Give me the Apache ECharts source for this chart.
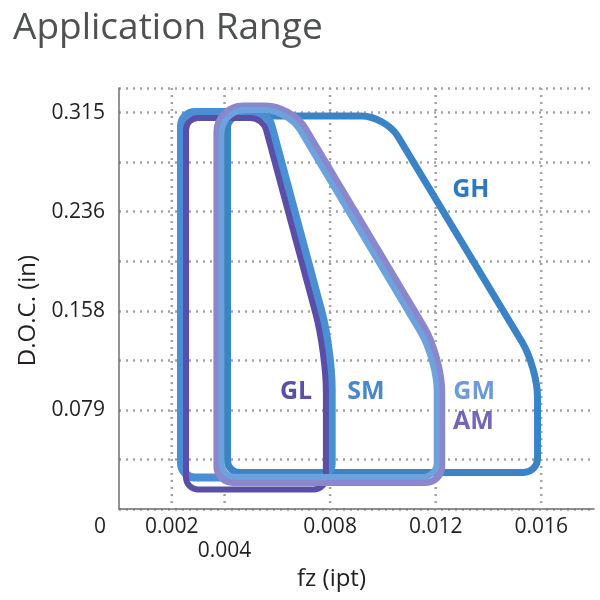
<!DOCTYPE html>
<html>
<head>
<meta charset="utf-8">
<script src="https://cdn.jsdelivr.net/npm/echarts@6/dist/echarts.min.js"></script>
<style>
  html, body { margin: 0; padding: 0; background: #fff; }
  #chart { width: 600px; height: 600px; }
</style>
</head>
<body>
<div id="chart"></div>
<script>
// axis ticks
const xTickValues = [0, 0.002, 0.004, 0.008, 0.012, 0.016]
const xTickLabels = ['0', '0.002', '0.004', '0.008', '0.012', '0.016']
const yStep = 0.039375
const yMax = 0.3345
const yTickValues = [0.07875, 0.1575, 0.23625, 0.315]
const yTickLabels = ['0.079', '0.158', '0.236', '0.315']

// outline corners of each range (fz, D.O.C.)
const ghFz = [0.00411, 0.0101, 0.01586, 0.01586, 0.00411]
const ghDoc = [0.3123, 0.3123, 0.1123, 0.029, 0.029]
const smFz = [0.00235, 0.00564, 0.00806, 0.00806, 0.00235]
const smDoc = [0.3155, 0.3155, 0.1266, 0.025, 0.025]
const glFz = [0.00254, 0.00545, 0.00784, 0.00784, 0.00254]
const glDoc = [0.3107, 0.3107, 0.1242, 0.0155, 0.0155]
const amFz = [0.00371, 0.00655, 0.01223, 0.01223, 0.00371]
const amDoc = [0.3202, 0.3202, 0.121, 0.021, 0.021]
const gmFz = [0.00388, 0.0064, 0.01204, 0.01204, 0.00388]
const gmDoc = [0.3171, 0.3171, 0.1187, 0.0254, 0.0254]

// label anchors
const labelNames = ['GL', 'SM', 'GM', 'AM', 'GH']
const labelFz = [0.00671, 0.00936, 0.01346, 0.01343, 0.01333]
const labelDoc = [0.0933, 0.0933, 0.0933, 0.069, 0.2536]
const labelColors = ['#5a4fa5', '#4a88c8', '#6c9bd5', '#7266b6', '#2f78be']

const gridColor = '#a3a3a3'
const fontFamily = '"Open Sans", "Noto Sans", sans-serif'

// rounded closed outline through the given pixel points
function roundedPath(pts, radii) {
  const n = pts.length
  let d = ''
  for (let i = 0; i < n; i++) {
    const v = pts[i]
    const p = pts[(i - 1 + n) % n]
    const q = pts[(i + 1) % n]
    const l1 = Math.hypot(p[0] - v[0], p[1] - v[1])
    const l2 = Math.hypot(q[0] - v[0], q[1] - v[1])
    const r = Math.min(radii[i], l1 / 2, l2 / 2)
    const a = [v[0] + (p[0] - v[0]) / l1 * r, v[1] + (p[1] - v[1]) / l1 * r]
    const b = [v[0] + (q[0] - v[0]) / l2 * r, v[1] + (q[1] - v[1]) / l2 * r]
    const c1 = [a[0] + (v[0] - a[0]) * 0.55, a[1] + (v[1] - a[1]) * 0.55]
    const c2 = [b[0] + (v[0] - b[0]) * 0.55, b[1] + (v[1] - b[1]) * 0.55]
    d += (i === 0 ? 'M' : 'L') + a[0] + ' ' + a[1] +
      ' C' + c1[0] + ' ' + c1[1] + ' ' + c2[0] + ' ' + c2[1] + ' ' + b[0] + ' ' + b[1] + ' '
  }
  return d + 'Z'
}

function outline(name, fz, doc, color, width, radii) {
  const data = fz.map((x, i) => [x, doc[i]])
  return {
    name: name,
    type: 'custom',
    silent: true,
    clip: false,
    data: data,
    renderItem(params, api) {
      if (params.dataIndex !== 0) return null
      const pts = data.map(p => api.coord(p))
      return {
        type: 'path',
        shape: { pathData: roundedPath(pts, radii) },
        style: { fill: 'none', stroke: color, lineWidth: width, lineJoin: 'round' }
      }
    }
  }
}

const chart = echarts.init(document.getElementById('chart'))
const option = {
  animation: false,
  title: {
    text: 'Application Range',
    left: 8,
    top: 5,
    textStyle: { fontFamily: fontFamily, fontSize: 37, fontWeight: 'normal', color: '#4f5052' }
  },
  grid: { left: 119, right: 6, top: 88, bottom: 91 },
  xAxis: {
    type: 'value',
    min: 0,
    max: 0.018,
    interval: 0.002,
    name: 'fz (ipt)',
    nameLocation: 'middle',
    nameGap: 48,
    nameTextStyle: { fontFamily: fontFamily, fontSize: 24, color: '#231f20', padding: [0, 50, 0, 0] },
    axisLine: { lineStyle: { color: '#6d6e71', width: 1.5 } },
    axisTick: { show: false },
    splitLine: { show: false },
    axisLabel: {
      margin: 8,
      fontFamily: fontFamily,
      fontSize: 21,
      color: '#231f20',
      formatter(v) {
        const i = xTickValues.findIndex(t => Math.abs(t - v) < 1e-7)
        if (i < 0) return ''
        if (i === 0) return '{zero|' + xTickLabels[i] + '}'
        if (i === 2) return '{low|' + xTickLabels[i] + '}'
        return '{n|' + xTickLabels[i] + '}'
      },
      rich: {
        n: { fontFamily: fontFamily, fontSize: 21, color: '#231f20' },
        zero: { fontFamily: fontFamily, fontSize: 21, color: '#231f20', padding: [0, 38, 0, 0] },
        low: { fontFamily: fontFamily, fontSize: 21, color: '#231f20', padding: [24, 0, 0, 0] }
      }
    }
  },
  yAxis: {
    type: 'value',
    min: 0,
    max: yMax,
    interval: yStep,
    name: 'D.O.C. (in)',
    nameLocation: 'middle',
    nameGap: 76,
    nameTextStyle: { fontFamily: fontFamily, fontSize: 24, color: '#231f20', padding: [0, 24, 0, 0] },
    axisLine: { show: true, lineStyle: { color: '#6d6e71', width: 1.5 } },
    axisTick: { show: false },
    splitLine: { lineStyle: { color: gridColor, width: 2.5, type: [2, 5] } },
    axisLabel: {
      margin: 14,
      fontFamily: fontFamily,
      fontSize: 21,
      color: '#231f20',
      formatter(v) {
        const i = yTickValues.findIndex(t => Math.abs(t - v) < 1e-6)
        return i < 0 ? '' : yTickLabels[i]
      }
    }
  },
  series: [
    {
      // vertical dotted grid lines at the labelled fz values
      name: 'xgrid',
      type: 'custom',
      silent: true,
      data: xTickValues.slice(1).map(v => [v, yMax]),
      renderItem(params, api) {
        const top = api.coord([api.value(0), yMax])
        const bottom = api.coord([api.value(0), 0])
        return {
          type: 'line',
          shape: { x1: top[0], y1: top[1], x2: bottom[0], y2: bottom[1] },
          style: { stroke: gridColor, lineWidth: 2.5, lineDash: [2, 5] }
        }
      }
    },
    outline('GH', ghFz, ghDoc, '#3b83c7', 7, [12, 24, 30, 14, 12]),
    outline('SM', smFz, smDoc, '#4a8fd4', 8, [14, 14, 40, 14, 14]),
    outline('GL', glFz, glDoc, '#5a4ea8', 6, [12, 12, 40, 12, 12]),
    outline('AM', amFz, amDoc, '#8b87cc', 7, [26, 26, 35, 16, 16]),
    outline('GM', gmFz, gmDoc, '#6ea2dc', 6, [24, 24, 32, 14, 14]),
    {
      name: 'labels',
      type: 'scatter',
      silent: true,
      symbolSize: 1,
      itemStyle: { color: 'transparent', opacity: 1 },
      data: labelNames.map((n, i) => ({
        name: n,
        value: [labelFz[i], labelDoc[i]],
        label: { color: labelColors[i] }
      })),
      label: {
        show: true,
        position: 'inside',
        formatter: '{b}',
        fontFamily: fontFamily,
        fontSize: 25,
        fontWeight: 'bold'
      }
    }
  ]
}
chart.setOption(option)
</script>
</body>
</html>
